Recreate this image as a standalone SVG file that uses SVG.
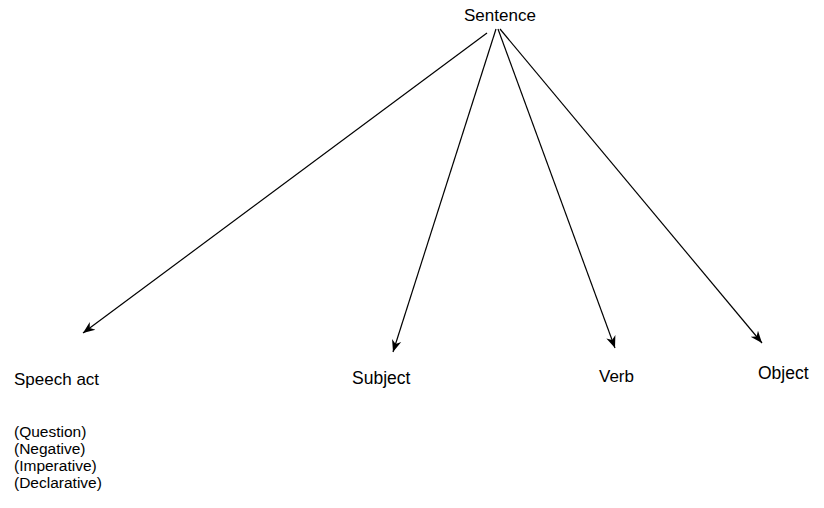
<svg xmlns="http://www.w3.org/2000/svg" width="824" height="508" viewBox="0 0 824 508">
  <style>
    text { font-family: "Liberation Sans", Arial, sans-serif; font-size: 17px; fill: #000; }
    .item { font-size: 15.5px; }
    .edge { stroke: #000; stroke-width: 1.2; fill: none; marker-end: url(#arrow); }
  </style>
  <defs>
    <marker id="arrow" viewBox="0 0 10 10" refX="10" refY="5" markerWidth="12" markerHeight="12" markerUnits="userSpaceOnUse" orient="auto">
      <path d="M0,1 L10,5 L0,9 L3,5 Z" fill="#000"/>
    </marker>
  </defs>
  <rect width="824" height="508" fill="#fff"/>

  <!-- edges fanning out from the root -->
  <g id="connectors">
    <line class="edge" x1="487" y1="33" x2="83" y2="333"/>
    <line class="edge" x1="496" y1="29" x2="393" y2="352"/>
    <line class="edge" x1="498" y1="29" x2="615" y2="348"/>
    <line class="edge" x1="500" y1="29" x2="762" y2="343"/>
  </g>

  <g id="sentence"><text x="464" y="21">Sentence</text></g>
  <g id="speech-act">
    <text x="14" y="385">Speech act</text>
    <text class="item" x="14" y="437">(Question)</text>
    <text class="item" x="14" y="454">(Negative)</text>
    <text class="item" x="14" y="471">(Imperative)</text>
    <text class="item" x="14" y="488">(Declarative)</text>
  </g>
  <g id="subject"><text x="352" y="384" style="font-size:17.5px">Subject</text></g>
  <g id="verb"><text x="599" y="382">Verb</text></g>
  <g id="object"><text x="758" y="379" style="font-size:17.5px">Object</text></g>
</svg>
